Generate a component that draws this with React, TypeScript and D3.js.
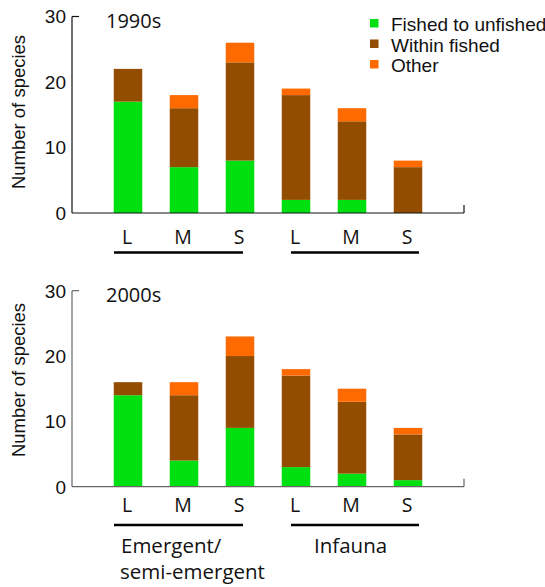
import React from "react";
import * as d3 from "d3";

const categories = ["L", "M", "S", "L", "M", "S"];
const seriesNames = ["Fished to unfished", "Within fished", "Other"];
const seriesColors = ["#00e010", "#934d00", "#ff6a00"];

const fished1990 = [17, 7, 8, 2, 2, 0];
const within1990 = [5, 9, 15, 16, 12, 7];
const other1990 = [0, 2, 3, 1, 2, 1];

const fished2000 = [14, 4, 9, 3, 2, 1];
const within2000 = [2, 10, 11, 14, 11, 7];
const other2000 = [0, 2, 3, 1, 2, 1];

const yTicks = [0, 10, 20, 30];
const groupNames = ["Emergent/\nsemi-emergent", "Infauna"];

const ARIAL = "'Liberation Sans', Arial, sans-serif";
const CALIBRI = "'Open Sans', sans-serif";

type PanelProps = {
  title: string;
  fished: number[];
  within: number[];
  other: number[];
  y0: number;
  y30: number;
  axisColor: string;
  labelY: number;
  catBaseline: number;
  lineY: number;
};

const x = d3.scaleLinear().domain([0, 7]).range([72, 464]);
const barW = 28.5;

function Panel(p: PanelProps) {
  const y = d3.scaleLinear().domain([0, 30]).range([p.y0, p.y30]);
  const rows = categories.map((c, i) => ({
    i,
    fished: p.fished[i],
    within: p.within[i],
    other: p.other[i],
  }));
  const stack = d3.stack<any>().keys(["fished", "within", "other"]);
  const layers = stack(rows);
  return (
    <g>
      {layers.map((layer, li) => (
        <g key={li} fill={seriesColors[li]}>
          {layer.map((d, k) =>
            d[1] - d[0] > 0 ? (
              <rect
                key={k}
                x={x(k + 1) - barW / 2}
                y={y(d[1])}
                width={barW}
                height={y(d[0]) - y(d[1])}
              />
            ) : null
          )}
        </g>
      ))}
      {/* axes */}
      <line x1={x(0)} x2={x(0)} y1={y(30)} y2={y(0)} stroke={p.axisColor} strokeWidth={1.2} />
      <line x1={x(0)} x2={x(0) + 7} y1={y(30)} y2={y(30)} stroke={p.axisColor} strokeWidth={1.2} />
      <line x1={x(0)} x2={x(7)} y1={y(0)} y2={y(0)} stroke={p.axisColor} strokeWidth={1.2} />
      <line x1={x(7)} x2={x(7)} y1={y(0)} y2={y(0) - 8} stroke={p.axisColor} strokeWidth={1.2} />
      {yTicks.map((t) => (
        <text
          key={t}
          x={66}
          y={y(t)}
          dy="0.36em"
          textAnchor="end"
          fontFamily={ARIAL}
          fontSize={19}
          fill="#111"
        >
          {t}
        </text>
      ))}
      <text
        transform={`translate(25,${p.labelY}) rotate(-90)`}
        textAnchor="middle"
        fontFamily={ARIAL}
        fontSize={18.5}
        fill="#111"
      >
        Number of species
      </text>
      <text x={106} y={p.y30 + 11} fontFamily={CALIBRI} fontSize={20} fill="#111">
        {p.title}
      </text>
      {categories.map((c, i) => (
        <text
          key={i}
          x={x(i + 1) - 1}
          y={p.catBaseline}
          textAnchor="middle"
          fontFamily={CALIBRI}
          fontSize={19.5}
          fill="#111"
        >
          {c}
        </text>
      ))}
      <line x1={114} x2={243} y1={p.lineY} y2={p.lineY} stroke="#000" strokeWidth={2.6} />
      <line x1={291} x2={419} y1={p.lineY} y2={p.lineY} stroke="#000" strokeWidth={2.6} />
    </g>
  );
}

export default function App() {
  const groupLines = groupNames[0].split("\n");
  return (
    <svg
      width={545}
      height={587}
      style={{ position: "absolute", left: 0, top: 0, background: "#fff" }}
    >
      <Panel
        title="1990s"
        fished={fished1990}
        within={within1990}
        other={other1990}
        y0={213}
        y30={16.5}
        axisColor="#111"
        labelY={112}
        catBaseline={244}
        lineY={252.5}
      />
      <Panel
        title="2000s"
        fished={fished2000}
        within={within2000}
        other={other2000}
        y0={486.7}
        y30={290.7}
        axisColor="#666"
        labelY={380}
        catBaseline={512}
        lineY={525}
      />
      {/* legend */}
      {seriesNames.map((s, i) => (
        <g key={s}>
          <rect x={370} y={19 + i * 20.5} width={8.5} height={8.5} fill={seriesColors[i]} />
          <text x={391} y={31 + i * 20.5} fontFamily={ARIAL} fontSize={19} fill="#111">
            {s}
          </text>
        </g>
      ))}
      {/* group labels */}
      <text fontFamily={CALIBRI} fontSize={20.5} fill="#111">
        <tspan x={121} y={553}>{groupLines[0]}</tspan>
        <tspan x={120} y={579}>{groupLines[1]}</tspan>
      </text>
      <text x={314} y={553} fontFamily={CALIBRI} fontSize={20.5} fill="#111">
        {groupNames[1]}
      </text>
    </svg>
  );
}
